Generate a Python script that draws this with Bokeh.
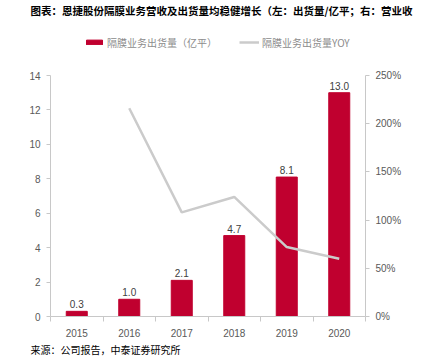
from bokeh.plotting import figure
from bokeh.layouts import column
from bokeh.models import (Range1d, LinearAxis, FixedTicker, NumeralTickFormatter,
                          ColumnDataSource, Legend, LegendItem, Title)
from bokeh.core.properties import value
from bokeh.embed import file_html
from bokeh.resources import INLINE

years = ["2015", "2016", "2017", "2018", "2019", "2020"]
shipments = [0.3, 1.0, 2.1, 4.7, 8.1, 13.0]
yoy_years = ["2016", "2017", "2018", "2019", "2020"]
yoy = [2.16, 1.08, 1.24, 0.72, 0.60]
left_ticks = [0, 2, 4, 6, 8, 10, 12, 14]
right_ticks = [0, 0.5, 1.0, 1.5, 2.0, 2.5]

title_text = "图表：恩捷股份隔膜业务营收及出货量均稳健增长（左：出货量/亿平；右：营业收"
source_text = "来源：公司报告，中泰证券研究所"
legend_bar = "隔膜业务出货量（亿平）"
legend_line = "隔膜业务出货量YOY"

BAR = "#C0002F"
LINE = "#CBCBCB"
AX = "#C8C8C8"
TXT = "#595959"
LAT = "Liberation Sans"
CJK = "Noto Sans CJK SC"

xs = [years.index(y) + 0.5 for y in years]
xl = [years.index(y) + 0.5 for y in yoy_years]

bar_src = ColumnDataSource(dict(x=xs, top=shipments,
                                lab=[f"{v:.1f}" for v in shipments]))
line_src = ColumnDataSource(dict(x=xl, y=yoy))

# ---- header: title + legend (its own ranges keep the marks out of view) ----
HEAD_H = 60
h = figure(width=419, height=HEAD_H, output_backend="svg", toolbar_location=None,
           x_range=Range1d(0, len(years)), y_range=Range1d(50, 51),
           x_axis_type=None, y_axis_type=None,
           min_border_left=50, min_border_right=54, min_border_top=0,
           min_border_bottom=0)
h.outline_line_color = None
h.grid.visible = False
hb = h.vbar(x="x", top="top", width=0.4, source=bar_src, fill_color=BAR,
            line_color=BAR)
hl = h.line(x="x", y="y", source=line_src, line_color=LINE, line_width=2.5)
legend = Legend(items=[LegendItem(label=legend_bar, renderers=[hb]),
                       LegendItem(label=legend_line, renderers=[hl])],
                orientation="horizontal", location=(34, 8),
                glyph_width=20, glyph_height=6, label_standoff=3, spacing=22,
                label_height=20,
                label_text_font=CJK, label_text_font_size="10px",
                label_text_color="#8C8C8C", background_fill_alpha=0,
                border_line_color=None, padding=0, margin=0)
h.add_layout(legend, "center")
h.title.text = title_text
h.title.text_font = CJK
h.title.text_font_size = "10.5px"
h.title.text_font_style = "bold"
h.title.text_color = "#000000"
h.title.align = "left"
h.title.offset = -20
h.title.standoff = 0

# ---- main chart ----
p = figure(width=419, height=356 - HEAD_H, output_backend="svg",
           toolbar_location=None,
           x_range=Range1d(0, len(years)), y_range=Range1d(0, 14),
           min_border_left=50, min_border_right=54, min_border_top=75 - HEAD_H,
           min_border_bottom=40)
p.outline_line_color = None
p.grid.visible = False
p.background_fill_color = "white"
p.extra_y_ranges = {"pct": Range1d(0, 2.5)}

p.vbar(x="x", top="top", width=0.4, source=bar_src, fill_color=BAR,
       line_color=BAR)
p.text(x="x", y="top", text="lab", source=bar_src, y_offset=-3,
       text_align="center", text_baseline="bottom", text_font=value(LAT),
       text_font_size="10px", text_color="#404040")
p.line(x="x", y="y", source=line_src, y_range_name="pct", line_color=LINE,
       line_width=2.5)

xa = p.xaxis[0]
xa.ticker = FixedTicker(ticks=xs, minor_ticks=list(range(len(years) + 1)))
xa.major_label_overrides = {x: y for x, y in zip(xs, years)}
xa.major_tick_line_color = None
xa.minor_tick_in = 0
xa.minor_tick_out = 5
xa.minor_tick_line_color = AX
xa.axis_line_color = AX
xa.major_label_text_font = LAT
xa.major_label_text_font_size = "10px"
xa.major_label_text_color = TXT
xa.major_label_standoff = 6

ya = p.yaxis[0]
ya.ticker = FixedTicker(ticks=left_ticks)
ya.minor_tick_line_color = None
ya.major_tick_in = 0
ya.major_tick_out = 4
ya.major_tick_line_color = AX
ya.axis_line_color = AX
ya.major_label_text_font = LAT
ya.major_label_text_font_size = "10px"
ya.major_label_text_color = TXT
ya.major_label_standoff = 6

ra = LinearAxis(y_range_name="pct", ticker=FixedTicker(ticks=right_ticks),
                formatter=NumeralTickFormatter(format="0%"))
ra.minor_tick_line_color = None
ra.major_tick_in = 0
ra.major_tick_out = 4
ra.major_tick_line_color = AX
ra.axis_line_color = AX
ra.major_label_text_font = LAT
ra.major_label_text_font_size = "10px"
ra.major_label_text_color = TXT
ra.major_label_standoff = 6
p.add_layout(ra, "right")

p.add_layout(Title(text=source_text, text_font=CJK, text_font_size="10px",
                   text_font_style="normal", text_color="#000000",
                   align="left", offset=-20, standoff=0), "below")

layout = column(h, p, spacing=0)
open("out.html", "w").write(file_html(layout, INLINE))
